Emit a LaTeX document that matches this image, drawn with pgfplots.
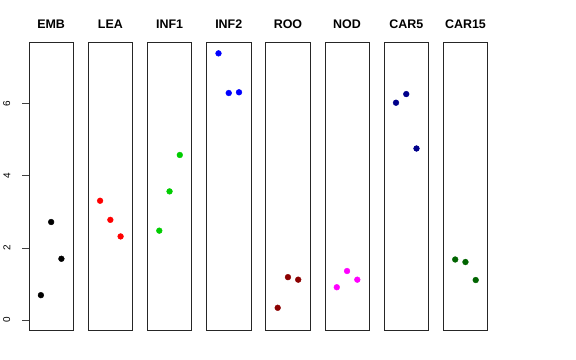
\documentclass[border=0pt]{standalone}
\usepackage{graphicx}
\usepackage{pgfplots}
\pgfplotsset{compat=1.18}
\usepackage{fontspec}
\setmainfont{Liberation Sans}
\definecolor{cred}{RGB}{255,0,0}
\definecolor{cblue}{RGB}{0,0,255}
\definecolor{cmagenta}{RGB}{255,0,255}
\definecolor{cgreen}{RGB}{0,205,0}
\definecolor{cdarkred}{RGB}{139,0,0}
\definecolor{cdarkblue}{RGB}{0,0,139}
\definecolor{cdarkgreen}{RGB}{0,100,0}
\pgfplotsset{
  panel/.style={
    scale only axis, width=44.3bp, height=288bp, anchor=south west,
    xmin=-0.16, xmax=4.16, ymin=-0.296, ymax=7.696,
    xtick=\empty, ytick=\empty,
    axis line style={line width=0.8bp, black!85},
    title style={font=\bfseries\fontsize{12.5}{14}\selectfont, inner sep=0pt, anchor=base, at={(0.5,1)}, yshift=8.7bp},
    clip=false,
  },
  dots/.style={only marks, mark=*, mark size=2.9bp},
}
\newcommand{\panel}[4]{%
  \begin{axis}[panel, at={(#1bp,29.3bp)}, title={#2}]
    \addplot[dots, color=#3, mark options={fill=#3, draw=#3}] coordinates {#4};
  \end{axis}}
\begin{document}
\begin{tikzpicture}
\path (0,0) rectangle (576bp,360bp);
\begin{axis}[panel, at={(29bp,29.3bp)}, title={EMB},
  ytick={0,2,4,6}, ytick pos=left,
  ytick align=outside, major tick length=7.5bp,
  ytick style={draw=none},
  yticklabel={\rotatebox{90}{\pgfmathprintnumber{\tick}}},
  yticklabel style={anchor=east, font=\fontsize{10}{11}\selectfont, inner sep=0pt, xshift=-11bp},
  /pgf/number format/assume math mode=true]
  \addplot[dots, color=black] coordinates {(1,0.69) (2,2.72) (3,1.70)};
  \pgfplotsinvokeforeach{0,2,4,6}{
    \draw[black!75, line width=0.9bp] (axis cs:-0.16,#1) -- (axis cs:-0.89,#1);
  }
\end{axis}
\panel{88.2}{LEA}{cred}{(1,3.31) (2,2.78) (3,2.32)}
\panel{147.4}{INF1}{cgreen}{(1,2.48) (2,3.57) (3,4.58)}
\panel{206.6}{INF2}{cblue}{(1,7.40) (2,6.30) (3,6.32)}
\panel{265.8}{ROO}{cdarkred}{(1,0.34) (2,1.19) (3,1.12)}
\panel{324.9}{NOD}{cmagenta}{(1,0.91) (2,1.36) (3,1.12)}
\panel{384.1}{CAR5}{cdarkblue}{(1,6.03) (2,6.27) (3,4.76)}
\panel{443.3}{CAR15}{cdarkgreen}{(1,1.68) (2,1.61) (3,1.11)}
\end{tikzpicture}
\end{document}
